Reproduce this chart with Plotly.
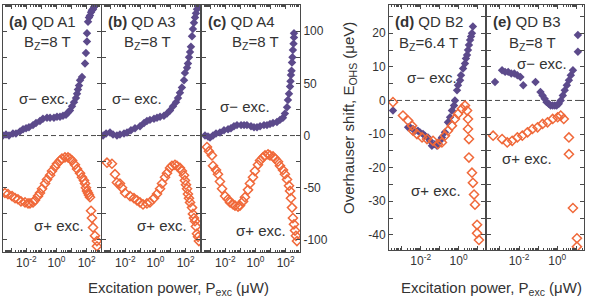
import plotly.graph_objects as go

W, H = 591, 302

# ---------------- data (log10 of P_exc in uW, Overhauser shift in ueV) ----------------
a_minus_logP = [-3.55, -3.35, -3.15, -2.89, -2.69, -2.42, -2.22, -2.02, -1.83, -1.56, -1.36, -1.10, -0.90,
                -0.63, -0.43, -0.17, 0.03, 0.23, 0.43, 0.63, 0.76, 0.89, 1.03, 1.16, 1.29, 1.36, 1.42, 1.49,
                1.56, 1.69, 1.89, 1.95, 2.02, 2.02, 2.09, 2.15, 2.22, 2.29, 2.35, 2.42, 2.48, 2.55]
a_minus_E = [0, 1, 0, 2, 2, 4, 6, 7, 8, 10, 12, 14, 16,
             17, 17, 17, 18, 18, 19, 20, 22, 24, 28, 32, 36, 40, 44, 48,
             53, 56, 69, 79, 90, 98, 109, 113, 115, 118, 120, 121, 123, 124]

a_plus_logP = [-3.42, -3.22, -2.95, -2.75, -2.56, -2.36, -2.09, -1.89, -1.76, -1.56, -1.43, -1.23, -1.10,
               -0.96, -0.76, -0.63, -0.43, -0.30, -0.10, 0.03, 0.23, 0.36, 0.56, 0.76, 0.89, 1.03, 1.22,
               1.36, 1.56, 1.69, 1.82, 1.89, 1.95, 2.02, 2.09, 2.15, 2.22, 2.29, 2.35, 2.42, 2.55, 2.68, 2.68]
a_plus_E = [-55, -56, -58, -60, -61, -63, -64, -65, -65, -64, -62, -58, -55,
            -51, -46, -42, -38, -34, -30, -27, -24, -22, -21, -21, -22, -24, -28,
            -32, -36, -40, -43, -46, -50, -53, -55, -57, -59, -72, -79, -88, -96, -101, -106]

b_minus_logP = [-3.48, -3.28, -3.02, -2.82, -2.56, -2.36, -2.09, -1.89, -1.63, -1.36, -1.03, -0.76, -0.57,
                -0.37, -0.10, 0.10, 0.30, 0.56, 0.76, 0.96, 1.16, 1.36, 1.49, 1.62, 1.75, 1.89, 1.95,
                2.09, 2.15, 2.22, 2.29, 2.35, 2.42, 2.48, 2.55, 2.62, 2.68, 2.75, 2.82]
b_minus_E = [0, 2, 3, 1, 0, 1, 2, 3, 5, 7, 9, 12, 14,
             15, 16, 17, 18, 19, 21, 24, 28, 32, 36, 41, 46, 53, 60,
             65, 69, 75, 80, 85, 95, 102, 108, 113, 117, 121, 124]

b_plus_logP = [-3.22, -2.89, -2.69, -2.56, -2.36, -2.22, -2.02, -1.69, -1.43, -1.23, -1.03, -0.83, -0.57,
               -0.37, -0.10, 0.10, 0.30, 0.43, 0.63, 0.76, 0.96, 1.09, 1.29, 1.42, 1.62, 1.75, 1.89,
               1.95, 2.02, 2.09, 2.15, 2.22, 2.29, 2.42, 2.48, 2.55, 2.62, 2.68, 2.75, 2.82, 2.88]
b_plus_E = [-26, -27, -37, -45, -46, -50, -55, -58, -60, -62, -64, -66, -65,
            -64, -60, -56, -51, -46, -40, -36, -31, -29, -28, -29, -31, -34, -38,
            -43, -47, -51, -56, -60, -64, -69, -75, -79, -82, -87, -94, -97, -101]

c_minus_logP = [-3.35, -3.15, -3.02, -2.82, -2.62, -2.36, -2.09, -1.82, -1.63, -1.43, -1.23, -0.96, -0.76,
                -0.57, -0.30, -0.10, 0.10, 0.30, 0.56, 0.76, 0.96, 1.16, 1.42, 1.62, 1.82, 1.95, 2.09,
                2.15, 2.22, 2.29, 2.32, 2.35, 2.39, 2.42, 2.45, 2.48, 2.52, 2.55, 2.55]
c_minus_E = [0, -1, -2, 0, 2, 3, 5, 6, 7, 9, 10, 10, 10,
             10, 9, 8, 8, 9, 10, 10, 11, 12, 13, 15, 17, 21, 27,
             34, 40, 47, 52, 58, 62, 70, 75, 82, 88, 94, 98]

c_plus_logP = [-3.22, -3.09, -2.89, -2.82, -2.62, -2.49, -2.36, -2.22, -2.02, -1.83, -1.69, -1.49, -1.36,
               -1.16, -1.03, -0.83, -0.70, -0.50, -0.37, -0.17, -0.04, 0.16, 0.30, 0.49, 0.63, 0.83, 0.96,
               1.16, 1.29, 1.49, 1.62, 1.82, 1.95, 2.09, 2.22, 2.29, 2.35, 2.42, 2.48, 2.55, 2.62, 2.68, 2.75]
c_plus_E = [-11, -15, -19, -29, -33, -37, -44, -51, -58, -61, -64, -66, -67,
            -68, -67, -63, -59, -52, -46, -40, -34, -28, -24, -21, -19, -18, -19,
            -20, -22, -25, -29, -33, -37, -42, -48, -53, -60, -69, -79, -85, -91, -96, -101]

d_minus_logP = [-3.47, -2.67, -2.57, -2.41, -2.30, -2.15, -2.04, -1.88, -1.78, -1.62, -1.51, -1.41, -1.25,
                -1.14, -0.98, -0.88, -0.72, -0.56, -0.45, -0.35, -0.24, -0.19, -0.08, -0.03, 0.08, 0.13,
                0.24, 0.34, 0.39, 0.45, 0.50, 0.55, 0.61, 0.66, 0.71, 0.76]
d_minus_E = [-3, -8, -8, -8.5, -9, -9, -9.5, -10, -10.5, -11, -12, -13.5, -13,
             -13.5, -12, -11, -9.5, -6.5, -5, -3, -1.5, 0, 3, 4.5, 6, 7.5,
             9.5, 11, 12.5, 13.5, 15, 16.5, 18, 19, 20, 22]

d_plus_logP = [-3.47, -2.94, -2.67, -2.46, -2.41, -2.20, -1.93, -1.67, -1.35, -1.09, -0.88, -0.72, -0.56,
               -0.35, -0.19, -0.03, 0.18, 0.34, 0.45, 0.50, 0.50, 0.55, 0.55, 0.71, 0.76, 0.82, 0.87,
               0.98, 0.98, 1.08]
d_plus_E = [-0.5, -4.5, -6, -7.5, -9, -10, -11, -11.5, -12, -13, -12.5, -10.5, -9,
            -7.5, -5.5, -4, -2.5, -1.5, -3, -5.5, -8.5, -11.5, -17, -21.5, -24.5, -28, -31,
            -37, -39.5, -41.5]

e_minus_logP = [-3.26, -2.89, -2.73, -2.57, -2.41, -2.25, -2.09, -1.93, -1.78, -1.14, -0.88, -0.77, -0.66,
                -0.56, -0.45, -0.35, -0.24, -0.13, -0.03, 0.08, 0.18, 0.29, 0.39, 0.50, 0.61, 0.71,
                0.82, 1.08, 1.08]
e_minus_E = [5.5, 9, 8.5, 8.5, 8, 8, 7.5, 7, 4.5, 5.5, 2.5, 1.5, 0.5,
             -0.5, -1, -1.5, -1.5, -1.5, -1.5, -1, 0, 1.5, 3, 4.5, 6, 7.5,
             9, 14.5, 19.5]

e_plus_logP = [-3.36, -2.89, -2.62, -2.36, -2.09, -1.83, -1.56, -1.30, -1.03, -0.77, -0.51, -0.24, 0.02,
               0.18, 0.34, 0.61, 0.61, 0.82, 1.03, 1.03]
e_plus_E = [-10.5, -11.5, -12.5, -12, -11, -10.5, -9.5, -8.5, -8, -7, -6.5, -5.5, -5,
            -4.5, -5.5, -11, -16, -32, -41, -43.5]

panel_titles = ["(a)", "(b)", "(c)", "(d)", "(e)"]
panel_dots = ["QD A1", "QD A3", "QD A4", "QD B2", "QD B3"]
panel_fields = ["8 T", "8 T", "8 T", "6.4 T", "8 T"]

ticks_abc = [-100, -75, -50, -25, 0, 25, 50, 75, 100]
ticks_de = [-40, -35, -30, -25, -20, -15, -10, -5, 0, 5, 10, 15, 20, 25]
xdecades = [-4, -3, -2, -1, 0, 1, 2, 3]

# ---------------- styling ----------------
PURPLE = '#5c4a8b'
ORANGE = '#f0693a'
TXT = '#333333'
AXC = '#4a4a4a'
FONT = 'Liberation Sans, Arial, sans-serif'


def fx(px):
    return px / W


def fy(py):
    return 1 - py / H


series = [
    (a_minus_logP, a_minus_E, a_plus_logP, a_plus_E),
    (b_minus_logP, b_minus_E, b_plus_logP, b_plus_E),
    (c_minus_logP, c_minus_E, c_plus_logP, c_plus_E),
    (d_minus_logP, d_minus_E, d_plus_logP, d_plus_E),
    (e_minus_logP, e_minus_E, e_plus_logP, e_plus_E),
]

xdoms = [(3, 101), (102, 200), (202, 300), (389, 485), (487, 584)]
ydoms = [(5, 252), (5, 252), (5, 252), (5, 250), (5, 250)]
xranges = [[-3.55, 2.95]] * 3 + [[-3.68, 1.4]] * 2
yranges = [[-111.5, 125]] * 3 + [[-44.5, 28.4]] * 2

fig = go.Figure()

minor_vals = [m * 10 ** k for k in range(-5, 4) for m in range(2, 10)]

for i, (mx, my, px_, py_) in enumerate(series):
    n = '' if i == 0 else str(i + 1)
    fig.add_trace(go.Scatter(
        x=[10 ** v for v in mx], y=my, mode='markers',
        marker=dict(symbol='diamond', size=6.5, color=PURPLE, line=dict(width=0)),
        xaxis='x' + n, yaxis='y' + n, showlegend=False, hoverinfo='skip'))
    fig.add_trace(go.Scatter(
        x=[10 ** v for v in px_], y=py_, mode='markers',
        marker=dict(symbol='diamond-open', size=7, color=ORANGE, line=dict(width=1.5, color=ORANGE)),
        xaxis='x' + n, yaxis='y' + n, showlegend=False, hoverinfo='skip'))

    xt = [10 ** d for d in xdecades]
    xtt = ['10<sup>%d</sup>' % d if d % 2 == 0 else '' for d in xdecades]
    xa = dict(type='log', range=xranges[i], domain=[fx(xdoms[i][0]), fx(xdoms[i][1])],
              anchor='y' + n, showline=True, linecolor=AXC, linewidth=1, mirror='ticks',
              ticks='inside', ticklen=4, tickcolor=AXC, tickwidth=1,
              tickmode='array', tickvals=xt, ticktext=xtt,
              minor=dict(ticks='inside', ticklen=2, tickcolor=AXC, tickwidth=1,
                         tickmode='array', tickvals=minor_vals, showgrid=False),
              showgrid=False, zeroline=False,
              tickfont=dict(family=FONT, size=12, color=TXT))
    if i < 3:
        yt = ticks_abc
        ytt = [str(v) if v % 50 == 0 else '' for v in yt]
    else:
        yt = ticks_de
        ytt = [str(v) if v % 10 == 0 else '' for v in yt]
    ya = dict(range=yranges[i], domain=[fy(ydoms[i][1]), fy(ydoms[i][0])], anchor='x' + n,
              showline=True, linecolor=AXC, linewidth=1, mirror='ticks',
              ticks='inside', ticklen=4, tickcolor=AXC, tickwidth=1,
              tickmode='array', tickvals=yt, ticktext=ytt,
              showgrid=False, zeroline=False,
              showticklabels=(i in (2, 3)),
              side='right' if i == 2 else 'left',
              tickfont=dict(family=FONT, size=12, color=TXT))
    fig.layout['xaxis' + n] = xa
    fig.layout['yaxis' + n] = ya

    fig.add_shape(type='line', xref='x%s domain' % n, yref='y' + n, x0=0, x1=1, y0=0, y1=0,
                  line=dict(color=AXC, width=1, dash='5px,3px'), layer='below')

ann = []


def txt(x, y, s, size=15, xanchor='center', angle=0):
    ann.append(dict(x=fx(x), y=fy(y), xref='paper', yref='paper', text=s, showarrow=False,
                    xanchor=xanchor, yanchor='middle', textangle=angle,
                    font=dict(family=FONT, size=size, color=TXT)))


title_pos = [(7, 21), (106, 21), (206, 21), (393, 21), (491, 21)]
field_pos = [(47, 42), (147, 42), (255, 42), (428, 44), (532, 44)]
minus_pos = [(44, 98), (137, 98), (245, 107), (432, 77), (542, 63)]
plus_pos = [(59, 225), (162, 225), (261, 230), (436, 190), (527, 158)]

for i in range(5):
    txt(title_pos[i][0], title_pos[i][1], '<b>%s</b> %s' % (panel_titles[i], panel_dots[i]), xanchor='left')
    txt(field_pos[i][0], field_pos[i][1], 'B<sub>Z</sub>=%s' % panel_fields[i])
    txt(minus_pos[i][0], minus_pos[i][1], 'σ− exc.')
    txt(plus_pos[i][0], plus_pos[i][1], 'σ+ exc.')

txt(178, 288, 'Excitation power, P<sub>exc</sub> (μW)')
txt(491, 288, 'Excitation power, P<sub>exc</sub> (μW)')
txt(349, 118, 'Overhauser shift, E<sub>OHS</sub> (μeV)', angle=-90)

fig.update_layout(width=W, height=H, margin=dict(l=0, r=0, t=0, b=0),
                  paper_bgcolor='white', plot_bgcolor='white',
                  annotations=ann, showlegend=False,
                  font=dict(family=FONT, color=TXT))

fig.write_html('out.html', config={'displayModeBar': False, 'staticPlot': True},
               post_script="document.body.style.margin='0';document.body.style.overflow='hidden';")
